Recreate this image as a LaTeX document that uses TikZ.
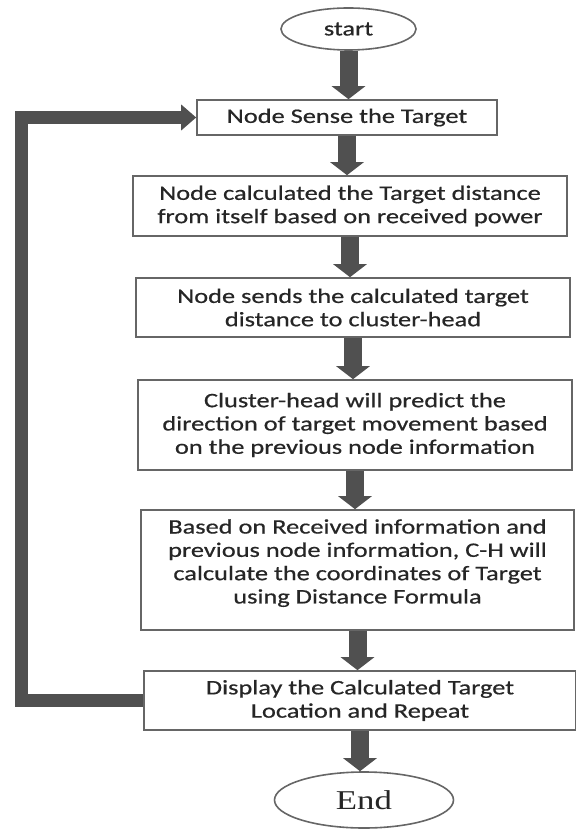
\documentclass[tikz,border=0pt]{standalone}
\usepackage{fontspec}
\newfontfamily\flowfont{Carlito}[FakeStretch=1.28,FakeBold=0.6]
\newfontfamily\endfont{Liberation Serif}[FakeStretch=1.28]
\usetikzlibrary{shapes.geometric,arrows.meta}
\definecolor{arrowgray}{HTML}{505050}
\definecolor{edgegray}{HTML}{666666}
\tikzset{
  stepbox/.style={draw=edgegray, line width=0.8pt, align=center, inner sep=0pt,
    text=black!85, font=\flowfont\fontsize{10.3}{11.65}\selectfont},
  terminal/.style={ellipse, draw=edgegray, line width=0.8pt, inner sep=0pt, text=black!85},
  flowarrow/.style={draw=arrowgray, line width=9pt, -{Triangle[length=6.5pt,width=16.5pt]}},
  backarrow/.style={draw=arrowgray, line width=6.5pt, -{Triangle[length=7.5pt,width=12.5pt]}}
}
\begin{document}
\begin{tikzpicture}[x=0.5pt,y=-0.5pt]
  \useasboundingbox (0,0) rectangle (575,833);
  % terminals
  \node[terminal, minimum width=67.5pt, minimum height=21pt,
    font=\flowfont\fontsize{10.3}{11.65}\selectfont] (start) at (348.5,29) {start};
  \node[terminal, minimum width=89.5pt, minimum height=28pt,
    font=\endfont\fontsize{13.6}{15}\selectfont] (end) at (364,800) {End};
  % process steps
  \node[stepbox, minimum width=150pt, minimum height=17.5pt] (sense) at (347,117.5)
    {Node Sense the Target};
  \node[stepbox, minimum width=217pt, minimum height=30pt] (calc) at (350,206)
    {Node calculated the Target distance\\from itself based on received power};
  \node[stepbox, minimum width=217pt, minimum height=29.5pt] (send) at (353,307.5)
    {Node sends the calculated target\\distance to cluster-head};
  \node[stepbox, minimum width=217pt, minimum height=45pt] (predict) at (355,425)
    {Cluster-head will predict the\\direction of target movement based\\on the previous node information};
  \node[stepbox, minimum width=216.5pt, minimum height=60pt] (coord) at (357.5,570)
    {Based on Received information and\\previous node information, C-H will\\calculate the coordinates of Target\\using Distance Formula\\[-3pt]~};
  \node[stepbox, minimum width=216pt, minimum height=29.5pt] (show) at (360,700.5)
    {Display the Calculated Target\\Location and Repeat};
  % arrows
  \foreach \a/\b in {start/sense, sense/calc, calc/send, send/predict, predict/coord, coord/show, show/end}
    \draw[flowarrow] (\a.south) -- (\a.south |- \b.north);
  \coordinate (loopx) at (21.5,0);
  \draw[backarrow] (show.west) -- (show.west -| loopx) |- (sense.west);
\end{tikzpicture}
\end{document}
